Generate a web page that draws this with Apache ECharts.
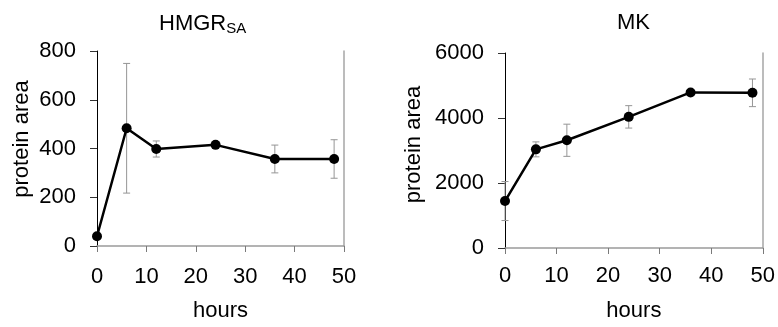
<!DOCTYPE html>
<html>
<head>
<meta charset="utf-8">
<script src="https://cdn.jsdelivr.net/npm/echarts@6/dist/echarts.min.js"></script>
<style>
  html, body { margin: 0; padding: 0; background: #fff; }
  #chart { width: 778px; height: 327px; }
</style>
</head>
<body>
<div id="chart"></div>
<script>
// Sampling times (hours)
const hours = [0, 6, 12, 24, 36, 48];

// HMGR_SA protein area: mean and error (±)
const hmgrMean = [40, 483, 398, 415, 357, 357];
const hmgrErr = [10, 266, 33, 8, 57, 79];

// MK protein area: mean and error (±)
const mkMean = [1445, 3035, 3315, 4035, 4786, 4775];
const mkErr = [600, 230, 495, 345, 90, 425];

// Axis tick values
const hourTicks = [0, 10, 20, 30, 40, 50];
const hmgrTicks = [0, 200, 400, 600, 800];
const mkTicks = [0, 2000, 4000, 6000];

const FONT = '"Liberation Sans", Arial, sans-serif';
const FS = 22;

function meanPoints(mean) {
  return hours.map((h, i) => [h, mean[i]]);
}
function errRanges(mean, err) {
  return hours.map((h, i) => [h, mean[i] - err[i], mean[i] + err[i]]);
}

// Vertical error bar with caps, placed through the axis scales
function renderErrorBar(params, api) {
  const x = api.value(0);
  const lo = api.coord([x, api.value(1)]);
  const hi = api.coord([x, api.value(2)]);
  const hw = 3.5;
  const style = { stroke: '#959595', lineWidth: 1 };
  return {
    type: 'group',
    children: [
      { type: 'line', shape: { x1: hi[0], y1: hi[1], x2: lo[0], y2: lo[1] }, style },
      { type: 'line', shape: { x1: hi[0] - hw, y1: hi[1], x2: hi[0] + hw, y2: hi[1] }, style },
      { type: 'line', shape: { x1: lo[0] - hw, y1: lo[1], x2: lo[0] + hw, y2: lo[1] }, style }
    ]
  };
}

const plainNumber = v => String(v);

function xAxisFor(gridIndex, labelMargin, nameGap) {
  return {
    type: 'value',
    gridIndex,
    min: hourTicks[0],
    max: hourTicks[hourTicks.length - 1],
    interval: hourTicks[1] - hourTicks[0],
    name: 'hours',
    nameLocation: 'middle',
    nameGap,
    nameTextStyle: { fontSize: FS, color: '#000', fontFamily: FONT },
    axisLine: { onZero: false, lineStyle: { color: '#9a9a9a', width: 1.5 } },
    axisTick: { show: true, length: 6, lineStyle: { color: '#7a7a7a' } },
    axisLabel: { fontSize: FS, color: '#000', fontFamily: FONT, margin: labelMargin, formatter: plainNumber },
    splitLine: { show: false }
  };
}

function yAxisFor(gridIndex, ticks, nameGap, shift) {
  return {
    type: 'value',
    gridIndex,
    min: ticks[0],
    max: ticks[ticks.length - 1],
    interval: ticks[1] - ticks[0],
    name: 'protein area',
    nameLocation: 'middle',
    nameGap,
    nameTextStyle: { fontSize: FS, color: '#000', fontFamily: FONT, padding: [0, 0, 0, shift] },
    axisLine: { show: true, lineStyle: { color: '#000', width: 1 } },
    axisTick: { show: true, length: 7, lineStyle: { color: '#333' } },
    axisLabel: { fontSize: FS, color: '#000', fontFamily: FONT, margin: 21, formatter: plainNumber },
    splitLine: { show: false }
  };
}

// Plain right-hand frame line
function frameAxis(gridIndex, ticks) {
  return {
    type: 'value',
    gridIndex,
    position: 'right',
    min: ticks[0],
    max: ticks[ticks.length - 1],
    axisLine: { show: true, lineStyle: { color: '#a6a6a6', width: 1.5 } },
    axisTick: { show: false },
    axisLabel: { show: false },
    splitLine: { show: false }
  };
}

const chart = echarts.init(document.getElementById('chart'), null, { renderer: 'canvas' });

chart.setOption({
  animation: false,
  backgroundColor: '#fff',
  title: [
    {
      text: 'HMGR{s|SA}',
      left: 154,
      top: 7,
      textStyle: {
        fontSize: FS, fontWeight: 'normal', color: '#000', fontFamily: FONT,
        rich: { s: { fontSize: 15, fontFamily: FONT, color: '#000', padding: [9, 0, 0, 0] } }
      }
    },
    {
      text: 'MK',
      left: 612,
      top: 7,
      textStyle: { fontSize: FS, fontWeight: 'normal', color: '#000', fontFamily: FONT }
    }
  ],
  grid: [
    { left: 97, top: 51, width: 247, height: 199 },
    { left: 505, top: 53, width: 258, height: 200 }
  ],
  xAxis: [xAxisFor(0, 20, 54), xAxisFor(1, 17, 52)],
  yAxis: [
    yAxisFor(0, hmgrTicks, 64, 19),
    yAxisFor(1, mkTicks, 80, 12),
    frameAxis(0, hmgrTicks),
    frameAxis(1, mkTicks)
  ],
  series: [
    {
      type: 'custom', xAxisIndex: 0, yAxisIndex: 0,
      renderItem: renderErrorBar,
      encode: { x: 0, y: [1, 2] },
      data: errRanges(hmgrMean, hmgrErr), z: 1
    },
    {
      type: 'line', xAxisIndex: 0, yAxisIndex: 0,
      data: meanPoints(hmgrMean),
      symbol: 'circle', symbolSize: 10,
      itemStyle: { color: '#000' },
      lineStyle: { color: '#000', width: 2.5 }, z: 3
    },
    {
      type: 'custom', xAxisIndex: 1, yAxisIndex: 1,
      renderItem: renderErrorBar,
      encode: { x: 0, y: [1, 2] },
      data: errRanges(mkMean, mkErr), z: 1
    },
    {
      type: 'line', xAxisIndex: 1, yAxisIndex: 1,
      data: meanPoints(mkMean),
      symbol: 'circle', symbolSize: 10,
      itemStyle: { color: '#000' },
      lineStyle: { color: '#000', width: 2.5 }, z: 3
    }
  ]
});
</script>
</body>
</html>
